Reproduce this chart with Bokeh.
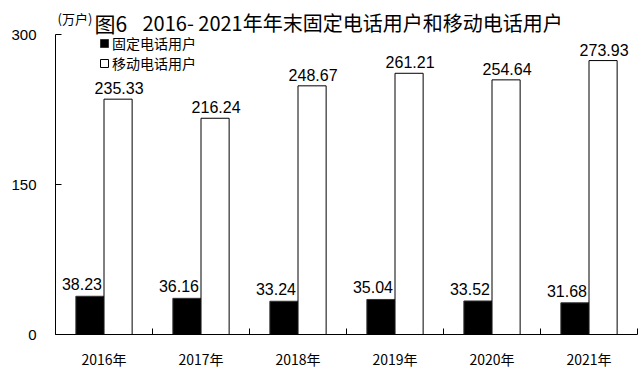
from bokeh.plotting import figure
from bokeh.models import Range1d, FixedTicker, LinearAxis, Label, Legend, LegendItem, ColumnDataSource
from bokeh.core.properties import value
from bokeh.embed import file_html
from bokeh.resources import INLINE

years = ["2016年", "2017年", "2018年", "2019年", "2020年", "2021年"]
fixed = [38.23, 36.16, 33.24, 35.04, 33.52, 31.68]
mobile = [235.33, 216.24, 248.67, 261.21, 254.64, 273.93]
y_ticks = [0, 150, 300]

BW = 0.29
idx = list(range(len(years)))
src = ColumnDataSource(dict(
    xf=[i + 0.5 - BW / 2 for i in idx],
    xm=[i + 0.5 + BW / 2 for i in idx],
    fixed=fixed, mobile=mobile,
    tf=[f"{v:.2f}" for v in fixed],
    tm=[f"{v:.2f}" for v in mobile],
))

# frame reaches the top of the canvas so that the heading (drawn inside it) is not clipped;
# the value axis itself only spans 0..300
p = figure(width=642, height=377, output_backend="svg", toolbar_location=None,
           x_range=Range1d(0, len(years)), y_range=Range1d(0, 334),
           x_axis_type=None, y_axis_type=None,
           min_border_left=55, min_border_right=5, min_border_top=0, min_border_bottom=43)
p.outline_line_color = None
p.xgrid.visible = False
p.ygrid.visible = False
p.background_fill_color = "white"

FONT_NUM = "Liberation Sans"
FONT_CJK = "Noto Sans CJK SC"

xaxis = LinearAxis(ticker=FixedTicker(ticks=[i + 0.5 for i in idx], minor_ticks=list(range(len(years) + 1))))
xaxis.major_label_overrides = {i + 0.5: y for i, y in zip(idx, years)}
xaxis.major_tick_in = 0
xaxis.major_tick_out = 0
xaxis.minor_tick_in = 6
xaxis.minor_tick_out = 0
xaxis.minor_tick_line_color = "black"
xaxis.axis_line_color = "black"
xaxis.major_label_standoff = 14
xaxis.major_label_text_font = FONT_CJK
xaxis.major_label_text_font_size = "14px"
xaxis.major_label_text_color = "black"
p.add_layout(xaxis, "below")

yaxis = LinearAxis(ticker=FixedTicker(ticks=y_ticks), bounds=(0, 300))
yaxis.major_tick_in = 6
yaxis.major_tick_out = 0
yaxis.minor_tick_line_color = None
yaxis.axis_line_color = "black"
yaxis.major_label_standoff = 19
yaxis.major_label_text_font = FONT_NUM
yaxis.major_label_text_font_size = "15px"
yaxis.major_label_text_color = "black"
p.add_layout(yaxis, "left")

rf = p.vbar(x="xf", top="fixed", width=BW, source=src, fill_color="black", line_color="#333333", line_width=1)
rm = p.vbar(x="xm", top="mobile", width=BW, source=src, fill_color="white", line_color="black", line_width=1)

p.text(x="xf", y="fixed", text="tf", source=src, text_align="center", text_baseline="bottom",
       x_offset=-8, y_offset=-6, text_font=value(FONT_NUM), text_font_size="16px", text_color="black")
p.text(x="xm", y="mobile", text="tm", source=src, text_align="center", text_baseline="bottom",
       x_offset=1, y_offset=-5, text_font=value(FONT_NUM), text_font_size="16px", text_color="black")

legend = Legend(items=[LegendItem(label="固定电话用户", renderers=[rf]),
                       LegendItem(label="移动电话用户", renderers=[rm])],
                location=(44, 261))
legend.glyph_width = 10
legend.glyph_height = 10
legend.label_height = 16
legend.spacing = 0
legend.padding = 2
legend.margin = 0
legend.label_standoff = 3
legend.border_line_color = None
legend.background_fill_alpha = 0
legend.label_text_font = FONT_CJK
legend.label_text_font_size = "14px"
legend.label_text_color = "black"
p.add_layout(legend)

p.add_layout(Label(x=57, y=18, x_units="canvas", y_units="canvas", text="(万户)",
                   text_font=FONT_CJK, text_font_size="13px", text_baseline="middle", text_color="black"))
p.add_layout(Label(x=94, y=22, x_units="canvas", y_units="canvas", text="图6",
                   text_font=FONT_CJK, text_font_size="21px", text_baseline="middle", text_color="black"))
p.add_layout(Label(x=142, y=22, x_units="canvas", y_units="canvas",
                   text="2016- 2021年年末固定电话用户和移动电话用户",
                   text_font=FONT_CJK, text_font_size="20px", text_baseline="middle", text_color="black"))

open("out.html", "w").write(file_html(p, INLINE))
